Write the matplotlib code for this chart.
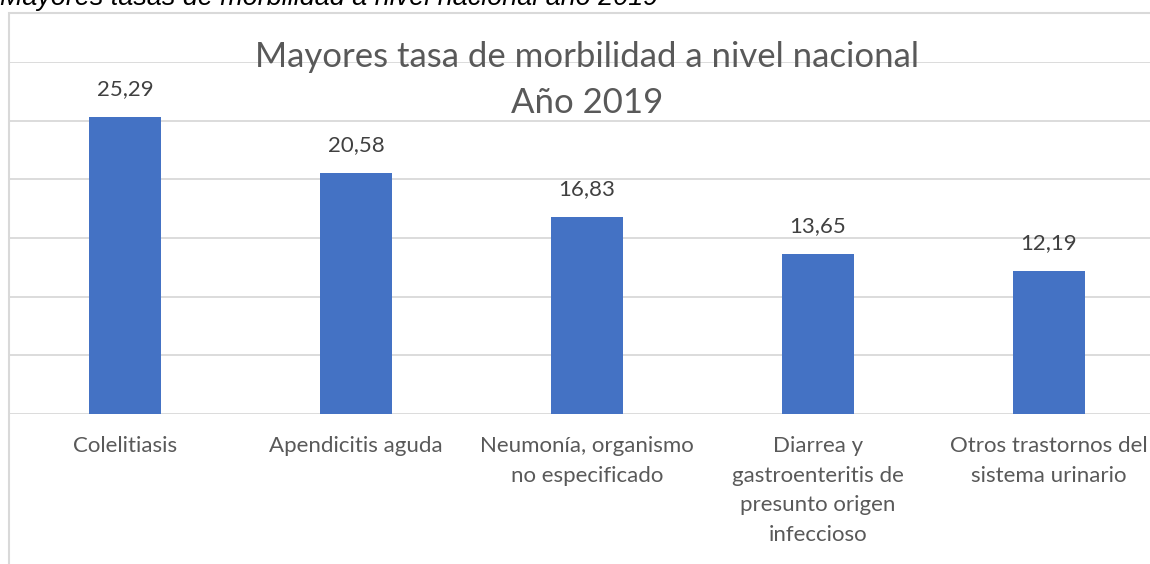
import matplotlib
matplotlib.use("Agg")
from matplotlib import pyplot as plt
from matplotlib.patches import Rectangle

categories = [
    "Colelitiasis",
    "Apendicitis aguda",
    "Neumonía, organismo\nno especificado",
    "Diarrea y\ngastroenteritis de\npresunto origen\ninfeccioso",
    "Otros trastornos del\nsistema urinario",
]
rates = [25.29, 20.58, 16.83, 13.65, 12.19]
value_labels = ["25,29", "20,58", "16,83", "13,65", "12,19"]

title_lines = ["Mayores tasa de morbilidad a nivel nacional", "Año 2019"]
caption = "Mayores tasas de morbilidad a nivel nacional año 2019"

bar_blue = "#4472c4"
grid_gray = "#d9d9d9"
text_gray = "#595959"
label_gray = "#404040"

W, H = 1150, 564
fig = plt.figure(figsize=(W / 100, H / 100), dpi=100)

# plot area sticks out on the right, like the cropped original
ax = fig.add_axes([9.5 / W, (H - 414) / H, 1155 / W, (414 - 62) / H])
ax.set_xlim(-0.5, len(categories) - 0.5)
ax.set_ylim(0, 30)
for s in ax.spines.values():
    s.set_visible(False)
ax.set_yticks(range(0, 31, 5))
ax.yaxis.grid(True, color=grid_gray, linewidth=1.3)
ax.set_axisbelow(True)
ax.tick_params(axis="y", left=False, labelleft=False)
ax.tick_params(axis="x", length=0, pad=16)

x = range(len(categories))
ax.bar(x, rates, width=0.316, color=bar_blue, zorder=2)
ax.set_xticks(list(x))
ax.set_xticklabels(categories, fontsize=16, color=text_gray,
                   family="Lato", linespacing=1.6, va="top")

for xi, yi, lab in zip(x, rates, value_labels):
    ax.annotate(lab, (xi, yi), xytext=(0, 20), textcoords="offset points",
                ha="center", va="center", fontsize=16, color=label_gray,
                family="Lato")

for line, yc in zip(title_lines, [57, 103]):
    fig.text(587 / W, 1 - yc / H, line, ha="center", va="center",
             fontsize=25, color=text_gray, family="Lato", zorder=5)

# outer chart border (only left and top are inside the crop)
fig.patches.append(Rectangle((9 / W, -0.1), 2, 1.1 - 13 / H, fill=False,
                             edgecolor=grid_gray, linewidth=1.5,
                             transform=fig.transFigure, figure=fig))

# document caption cut off at the top edge
fig.text(0.0, 1 - 5 / H, caption, ha="left", va="baseline", fontsize=19.4,
         style="italic", family="Liberation Sans", color="#000000")

fig.savefig("out.png", dpi=100)
